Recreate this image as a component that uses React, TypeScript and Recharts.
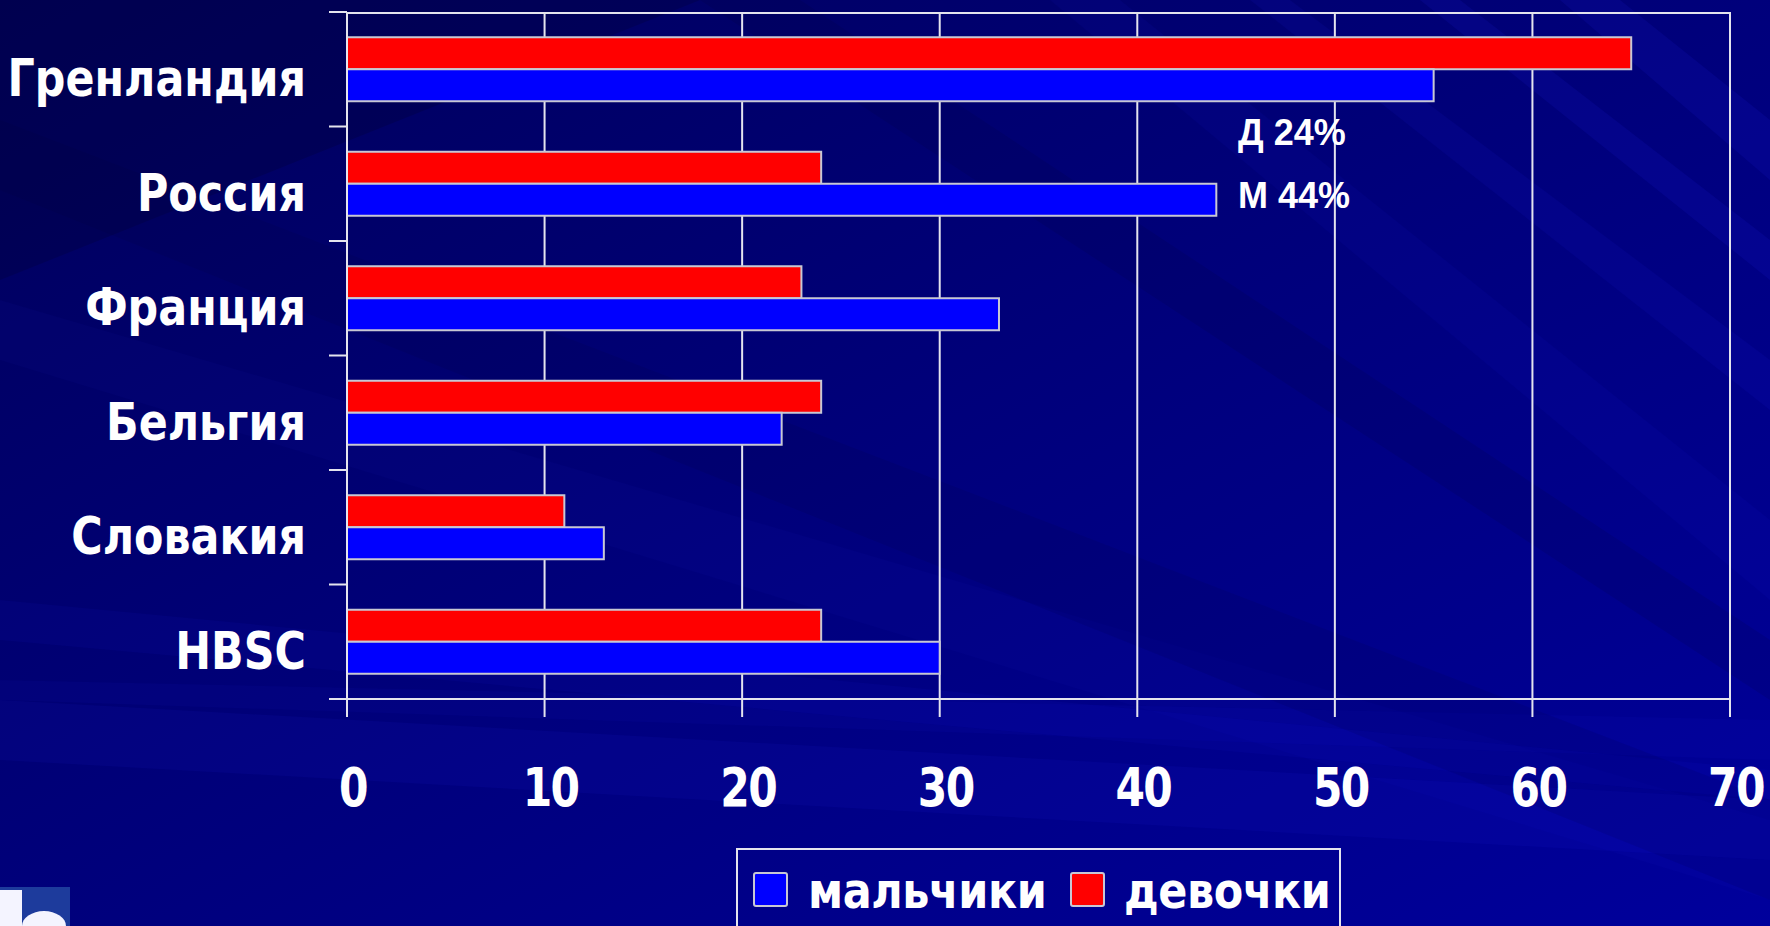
import React from "react";
import { BarChart, Bar, XAxis, YAxis, CartesianGrid, ReferenceDot } from "recharts";

// data
const countries = ["Гренландия", "Россия", "Франция", "Бельгия", "Словакия", "HBSC"];
const boys = [55, 44, 33, 22, 13, 30];
const girls = [65, 24, 23, 24, 11, 24];
const xTicks = [0, 10, 20, 30, 40, 50, 60, 70];
const boysName = "мальчики";
const girlsName = "девочки";
const noteCountry = "Россия";

const data = countries.map((country, i) => ({ country, boys: boys[i], girls: girls[i] }));

const W = 1770;
const H = 926;
const M = { top: 12, right: 40, bottom: 0, left: 0 };
const Y_W = 347;
const X_H = 227;
const PLOT_H = H - M.top - M.bottom - X_H;
const PLOT_BOTTOM = M.top + PLOT_H;
const BAND = PLOT_H / countries.length;
const FONT = "'DejaVu Sans', Verdana, sans-serif";
const LINE = "#e4e4ee";
const BLUE = "#0000ff";
const RED = "#ff0000";
const BAR_EDGE = "#c8c8d4";

function CountryTick(props: any) {
  const { y, payload, index } = props;
  const ax = M.left + Y_W;
  return (
    <g>
      <line x1={ax - 18} x2={ax} y1={y - BAND / 2} y2={y - BAND / 2} stroke={LINE} strokeWidth={2} />
      {index === countries.length - 1 && (
        <line x1={ax - 18} x2={ax} y1={y + BAND / 2} y2={y + BAND / 2} stroke={LINE} strokeWidth={2} />
      )}
      <g transform={`translate(${ax - 41},${y + 27})`}>
        <text transform="scale(0.84,1)" textAnchor="end" fill="#fff" fontFamily={FONT} fontWeight="bold" fontSize={51}>
          {payload.value}
        </text>
      </g>
    </g>
  );
}

function ValueTick(props: any) {
  const { x, payload } = props;
  return (
    <g transform={`translate(${x + 6},${PLOT_BOTTOM + 107})`}>
      <text transform="scale(0.8,1)" textAnchor="middle" fill="#fff" fontFamily={FONT} fontWeight="bold" fontSize={53} letterSpacing={-2}>
        {payload.value}
      </text>
    </g>
  );
}

function Note(props: any) {
  const { viewBox } = props;
  const cx = viewBox.x + viewBox.width / 2;
  const cy = viewBox.y + viewBox.height / 2;
  const i = countries.indexOf(noteCountry);
  const st = { fill: "#fff", fontFamily: "'Liberation Sans', Arial, sans-serif", fontWeight: "bold" as const, fontSize: 36 };
  return (
    <g>
      <text x={cx + 2} y={cy - 39} {...st}>{`Д ${girls[i]}%`}</text>
      <text x={cx + 2} y={cy + 24} {...st}>{`М ${boys[i]}%`}</text>
    </g>
  );
}

function Background() {
  return (
    <svg width={W} height={H} style={{ position: "absolute", left: 0, top: 0 }}>
      <defs>
        <linearGradient id="bg" x1="0" y1="0" x2="1" y2="1">
          <stop offset="0%" stopColor="#00005a" />
          <stop offset="45%" stopColor="#000078" />
          <stop offset="100%" stopColor="#00009c" />
        </linearGradient>
      </defs>
      <rect width={W} height={H} fill="url(#bg)" />
      <g fill="#2a2aff">
        <polygon points="0,300 0,360 1770,900 1770,820" opacity={0.04} />
        <polygon points="0,700 0,760 1770,860 1770,800" opacity={0.07} />
        <polygon points="0,680 0,700 1770,760 1770,720" opacity={0.05} />
        <polygon points="0,600 0,640 1770,800 1770,770" opacity={0.06} />
        <polygon points="1050,0 1120,0 1770,520 1770,600" opacity={0.06} />
        <polygon points="1250,0 1290,0 1770,360 1770,410" opacity={0.08} />
        <polygon points="1420,0 1460,0 1770,240 1770,280" opacity={0.1} />
        <polygon points="1560,0 1620,0 1770,120 1770,180" opacity={0.1} />
      </g>
      <g fill="#000030">
        <polygon points="0,0 700,0 0,280" opacity={0.25} />
        <polygon points="0,120 0,190 1770,900 1770,800" opacity={0.1} />
        <polygon points="700,0 800,0 1770,640 1770,700" opacity={0.12} />
      </g>
      {/* logo corner */}
      <rect x={0} y={887} width={70} height={39} fill="#1d3b9c" />
      <rect x={0} y={890} width={22} height={36} fill="#f4f4ff" />
      <ellipse cx={44} cy={926} rx={22} ry={15} fill="#f4f4ff" />
    </svg>
  );
}

function LegendBox() {
  const items = [
    { name: boysName, color: BLUE, sq: 18, tx: 72 },
    { name: girlsName, color: RED, sq: 335, tx: 388 },
  ];
  return (
    <svg width={606} height={80} style={{ position: "absolute", left: 736, top: 848 }}>
      <rect x={1} y={1} width={603} height={100} fill="none" stroke={LINE} strokeWidth={2} />
      {items.map((it) => (
        <g key={it.name}>
          <rect x={it.sq} y={25} width={33} height={33} fill={it.color} stroke={BAR_EDGE} strokeWidth={2} rx={2} />
          <g transform={`translate(${it.tx},60)`}>
            <text transform="scale(0.86,1)" fill="#fff" fontFamily={FONT} fontWeight="bold" fontSize={50} letterSpacing={-0.5}>
              {it.name}
            </text>
          </g>
        </g>
      ))}
    </svg>
  );
}

export default function App() {
  return (
    <div style={{ position: "absolute", left: 0, top: 0, width: W, height: H, overflow: "hidden" }}>
      <Background />
      <div style={{ position: "absolute", left: 0, top: 0 }}>
        <BarChart
          width={W}
          height={H}
          data={data}
          layout="vertical"
          margin={M}
          barCategoryGap="22%"
          barGap={0}
        >
          <CartesianGrid
            stroke={LINE}
            strokeWidth={2}
            horizontalPoints={[M.top + 1]}
          />
          <XAxis
            type="number"
            domain={[0, 70]}
            ticks={xTicks}
            height={X_H}
            axisLine={{ stroke: LINE, strokeWidth: 2 }}
            tickLine={{ stroke: LINE, strokeWidth: 2 }}
            tickSize={18}
            tick={<ValueTick />}
            interval={0}
          />
          <YAxis
            type="category"
            dataKey="country"
            width={Y_W}
            axisLine={{ stroke: LINE, strokeWidth: 2 }}
            tickLine={false}
            tick={<CountryTick />}
            interval={0}
          />
          <Bar dataKey="girls" name={girlsName} fill={RED} stroke={BAR_EDGE} strokeWidth={2} isAnimationActive={false} />
          <Bar dataKey="boys" name={boysName} fill={BLUE} stroke={BAR_EDGE} strokeWidth={2} isAnimationActive={false} />
          <ReferenceDot
            x={45}
            y={noteCountry}
            r={1}
            fill="none"
            stroke="none"
            ifOverflow="visible"
            label={(p: any) => <Note {...p} />}
          />
        </BarChart>
      </div>
      <LegendBox />
    </div>
  );
}
